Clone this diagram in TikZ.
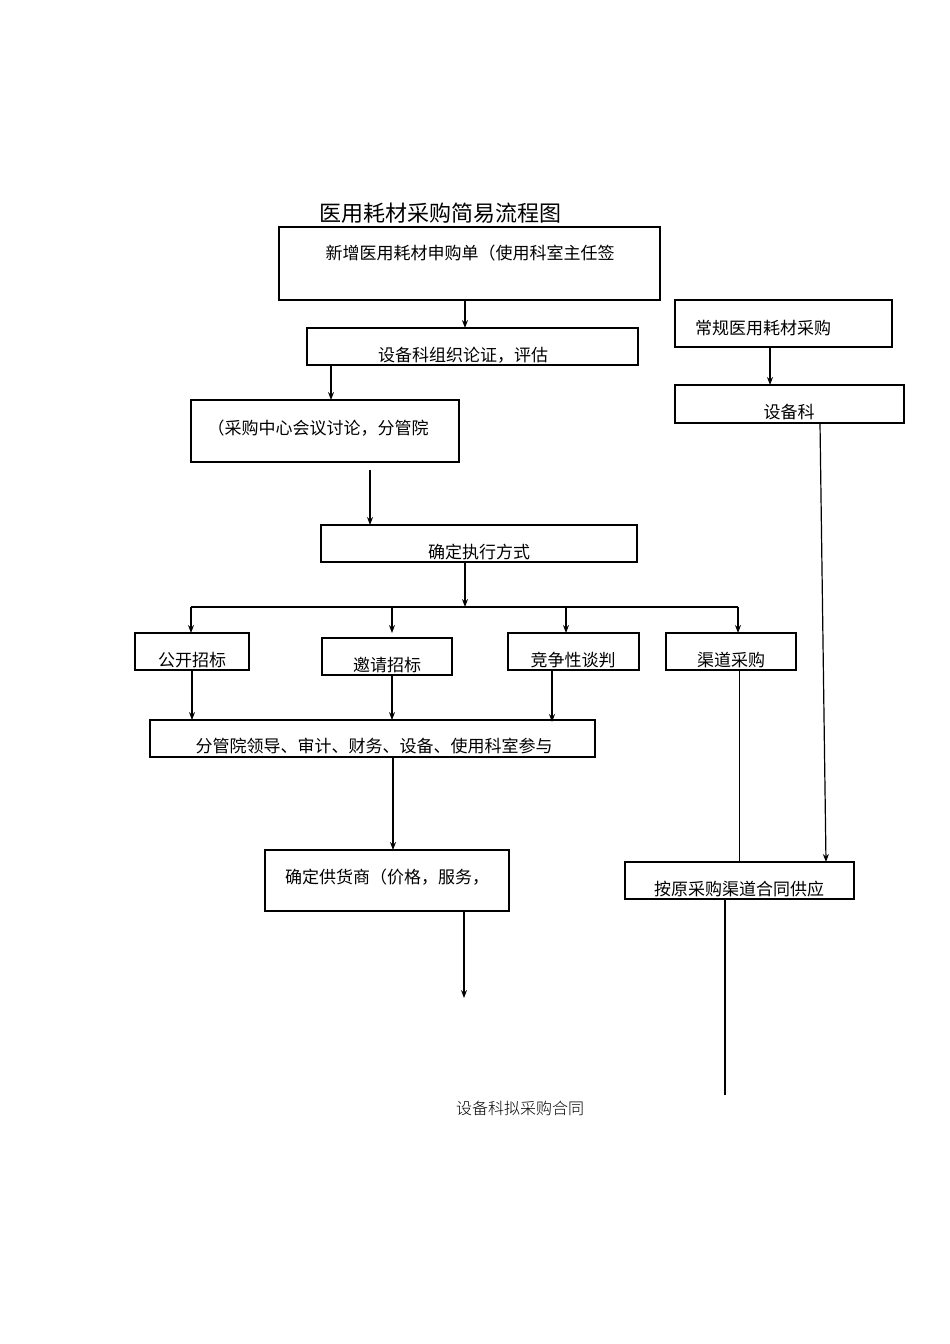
\documentclass[tikz,border=0pt]{standalone}
\usepackage{fontspec}
\setmainfont{Noto Sans CJK SC}
\newfontfamily\serifcjk{Noto Sans CJK SC Light}
\usetikzlibrary{arrows.meta}
\begin{document}
\begin{tikzpicture}[x=1pt,y=-1pt,
  bx/.style={draw,line width=1.2pt},
  lbl/.style={font=\fontsize{17}{17}\selectfont,anchor=center},
  ar/.style={-{Stealth[length=8pt,width=6pt]},line width=1.2pt},
  ln/.style={line width=1pt}]
\useasboundingbox (0,0) rectangle (950,1344);
\node[font=\fontsize{22}{22}\selectfont] (title) at (440,213) {医用耗材采购简易流程图};
\draw[bx] (279,227) rectangle (660,300); \node[lbl] (b1) at (470,253) {新增医用耗材申购单（使用科室主任签};
\draw[bx] (307,328) rectangle (638,365); \node[lbl] (b2) at (463,355) {设备科组织论证，评估};
\draw[bx] (191,400) rectangle (459,462); \node[lbl] (b3) at (318,428) {（采购中心会议讨论，分管院};
\draw[bx] (321,525) rectangle (637,562); \node[lbl] (b4) at (479,552) {确定执行方式};
\draw[bx] (135,633) rectangle (249,670); \node[lbl] (c1) at (192,660) {公开招标};
\draw[bx] (322,638) rectangle (452,675); \node[lbl] (c2) at (387,665) {邀请招标};
\draw[bx] (508,633) rectangle (639,670); \node[lbl] (c3) at (573,660) {竞争性谈判};
\draw[bx] (666,633) rectangle (796,670); \node[lbl] (c4) at (731,660) {渠道采购};
\draw[bx] (150,720) rectangle (595,757); \node[lbl] (d1) at (374,746) {分管院领导、审计、财务、设备、使用科室参与};
\draw[bx] (265,850) rectangle (509,911); \node[lbl] (e1) at (387,877) {确定供货商（价格，服务，};
\node[font=\serifcjk\fontsize{16}{16}\selectfont] (f1) at (520,1108) {设备科拟采购合同};
\draw[bx] (675,300) rectangle (892,347); \node[lbl] (r1) at (763,328) {常规医用耗材采购};
\draw[bx] (675,385) rectangle (904,423); \node[lbl] (r2) at (789,412) {设备科};
\draw[bx] (625,862) rectangle (854,899); \node[lbl] (r3) at (739,889) {按原采购渠道合同供应};
\coordinate (p1) at (465,300); \coordinate (p1e) at (465,328);
\draw[ar] (p1) -- (p1e);
\draw[ar] (331,365) -- (331,400);
\draw[ar] (370,470) -- (370,525);
\draw[ar] (465,562) -- (465,607);
\draw[line width=2pt] (191,607) -- (738,607);
\foreach \x in {191,392,566,738} \draw[ar] (\x,607) -- (\x,633);
\draw[ar] (192,670) -- (192,720);
\draw[ar] (392,675) -- (392,720);
\draw[ar] (552,670) -- (552,722);
\draw[ar] (393,757) -- (393,850);
\draw[ar] (464,911) -- (464,998);
\draw[ar] (770,347) -- (770,385);
\draw[ar] (820,423) -- (826,862);
\draw[ln] (739,670) -- (739,862);
\draw[ln,line width=1.5pt] (725,899) -- (725,1095);
\end{tikzpicture}
\end{document}
